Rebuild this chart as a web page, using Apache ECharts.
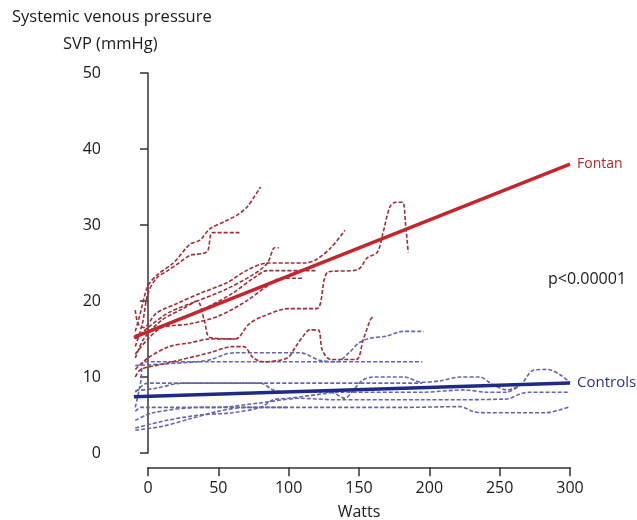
<!DOCTYPE html>
<html>
<head>
<meta charset="utf-8">
<script src="https://cdn.jsdelivr.net/npm/echarts@6/dist/echarts.min.js"></script>
<style>
  html, body { margin: 0; padding: 0; background: #fff; }
  #chart { width: 637px; height: 520px; }
</style>
</head>
<body>
<div id="chart"></div>
<script>
// tick labels
const xTicks = [0, 50, 100, 150, 200, 250, 300];
const yTicks = [0, 10, 20, 30, 40, 50];

// regression lines (Watts, mmHg)
const fontanFit = [[-10, 15.2], [300, 38]];
const controlFit = [[-10, 7.4], [300, 9.2]];

// individual Fontan patients (dashed red)
const fontan1 = [[-9,16],[-6,18],[0,22],[7,23.5],[18,25],[30,27.5],[37,28],[44,29.5],[55,30.5],[65,31.5],[71,32.5],[80,35]];
const fontan2 = [[-9,14],[-4,17],[0,21],[6,23],[14,24],[22,25],[30,26],[42,26.5],[46,29],[65,29]];
const fontan3 = [[-9,18.8],[-7,17],[-3,16.5],[6,18.4],[21,19.7],[37,21],[56,22.4],[70,24],[85,25],[103,25],[112,25],[120,25.5],[130,27],[140,29.3]];
const fontan4 = [[-9,15],[0,16.5],[15,18.5],[35,20],[55,21.5],[75,23.5],[85,25],[90,27],[93,27]];
const fontan5 = [[-9,15.5],[0,16],[20,17.5],[40,19],[60,21],[75,23],[85,24],[120,24]];
const fontan6 = [[-9,13],[0,15],[10,16.5],[30,17],[50,18],[70,20],[85,22],[95,23],[110,23]];
const fontan7 = [[-9,11],[0,12.5],[15,14],[30,14.5],[44,15],[62,15],[72,17],[82,18],[100,19],[120,19],[128,23.8],[149,24.1],[156,25.7],[163,26.4],[167,28.9],[172,32.4],[176,33],[181,33],[183,30.3],[185,26.4]];
const fontan8 = [[-9,10],[-5,11],[13,11.8],[44,13.2],[60,14],[68,14],[75,12.5],[82,12],[99,12.5],[105,14],[110,15.3],[115,16.2],[121,16.2],[124,13.5],[130,12.3],[148,12.3],[153,14.9],[158,17.5],[160,18]];
const fontan9 = [[-9,12.5],[-3,15],[10,17.5],[25,19],[35,20],[40,17.5],[44,15.2],[62,15]];

// individual controls (dashed blue)
const control1 = [[-9,6],[-5,9.5],[-3,12],[195,12]];
const control2 = [[-9,11.5],[35,12],[45,12.3],[55,13],[62,13.2],[108,13.2],[122,12.2],[134,12],[143,13.2],[150,14.5],[158,15.1],[170,15.4],[181,16],[196,16]];
const control3 = [[-9,8],[0,9.2],[195,9.2]];
const control4 = [[-9,8.2],[5,8.5],[25,9.2],[80,9.2],[89,8.3],[100,8],[130,8],[140,7.2],[145,8],[152,9.5],[160,10],[182,10],[195,9.3],[208,9.5],[222,10],[236,10],[245,9],[255,8.3],[265,9],[274,10.9],[284,11],[293,10.3],[300,9.3]];
const control5 = [[-9,4.3],[3.6,5.3],[37,6],[49,6],[80,6.6],[108,7.2],[134,7],[195,7],[255,7.1],[265,7.8],[272,8],[300,8]];
const control6 = [[-9,3.3],[13.5,4.3],[37,5],[60,5.3],[80,6],[89,7],[100,7.2],[125,7.8],[135,8],[195,8],[225,8.3],[241,8],[255,8],[265,9]];
const control7 = [[-9,5.5],[-5,6],[180,6],[222,6.1],[232,5.4],[240,5.3],[283,5.3],[293,5.7],[300,6.1]];
const control8 = [[-9,3],[10,3.5],[30,4.5],[50,5.5],[70,6],[100,6]];

const fontanLines = [fontan1, fontan2, fontan3, fontan4, fontan5, fontan6, fontan7, fontan8, fontan9];
const controlLines = [control1, control2, control3, control4, control5, control6, control7, control8];

const RED = '#c3262c';
const RED_DASH = '#a02c36';
const BLUE = '#1f2a86';
const BLUE_DASH = '#6466ad';
const FONT = '"Open Sans", "Noto Sans", sans-serif';

const dashed = (data, color) => ({
  type: 'line',
  data: data,
  xAxisIndex: 0,
  yAxisIndex: 0,
  showSymbol: false,
  smooth: 0.3,
  silent: true,
  lineStyle: { color: color, width: 1.6, type: [4, 2] },
  z: 2
});

const chart = echarts.init(document.getElementById('chart'));

chart.setOption({
  animation: false,
  backgroundColor: '#fff',
  textStyle: { fontFamily: FONT },
  grid: [
    { left: 117, right: 67, top: 73, bottom: 67 },
    { left: 148, right: 67, top: 467, height: 1 }
  ],
  xAxis: [
    { gridIndex: 0, type: 'value', min: -22, max: 300, show: false },
    {
      gridIndex: 1, type: 'value', min: 0, max: 300, interval: 50,
      axisLine: { lineStyle: { color: '#333', width: 1.5 } },
      axisTick: { length: 9, lineStyle: { color: '#333', width: 1.5 } },
      splitLine: { show: false },
      axisLabel: { color: '#1a1a1a', fontSize: 16, margin: 13,
        formatter: v => xTicks.includes(v) ? String(v) : '' },
      name: 'Watts', nameLocation: 'middle', nameGap: 37,
      nameTextStyle: { color: '#1a1a1a', fontSize: 16 }
    }
  ],
  yAxis: [
    {
      gridIndex: 0, type: 'value', min: 0, max: 50, interval: 10,
      axisLine: { show: true, lineStyle: { color: '#333', width: 1.5 } },
      axisTick: { show: true, length: 8, lineStyle: { color: '#333', width: 1.5 } },
      splitLine: { show: false },
      axisLabel: { color: '#1a1a1a', fontSize: 16, margin: 16,
        formatter: v => yTicks.includes(v) ? String(v) : '' }
    },
    { gridIndex: 1, type: 'value', show: false }
  ],
  graphic: [
    {
      type: 'text', left: 12, top: 9,
      style: {
        text: 'Systemic venous pressure', fill: '#1a1a1a',
        font: '16.5px ' + FONT
      }
    },
    {
      type: 'text', left: 63, top: 36,
      style: {
        text: 'SVP (mmHg)', fill: '#1a1a1a',
        font: '16.5px ' + FONT
      }
    },
    {
      type: 'text', left: 548, top: 271,
      style: { text: 'p<0.00001', fill: '#1a1a1a', font: '16px ' + FONT }
    }
  ],
  series: [
    ...controlLines.map(d => dashed(d, BLUE_DASH)),
    ...fontanLines.map(d => dashed(d, RED_DASH)),
    {
      type: 'line', data: controlFit, showSymbol: false, silent: true, z: 5,
      lineStyle: { color: BLUE, width: 3.5 },
      endLabel: { show: true, formatter: 'Controls', color: '#2b3190',
        fontSize: 15, fontFamily: FONT, distance: 7 }
    },
    {
      type: 'line', data: fontanFit, showSymbol: false, silent: true, z: 5,
      lineStyle: { color: RED, width: 3.5 },
      endLabel: { show: true, formatter: 'Fontan', color: '#b3282e',
        fontSize: 14, fontFamily: FONT, distance: 7 }
    },
    { type: 'line', xAxisIndex: 1, yAxisIndex: 1, data: [] }
  ]
});
</script>
</body>
</html>
